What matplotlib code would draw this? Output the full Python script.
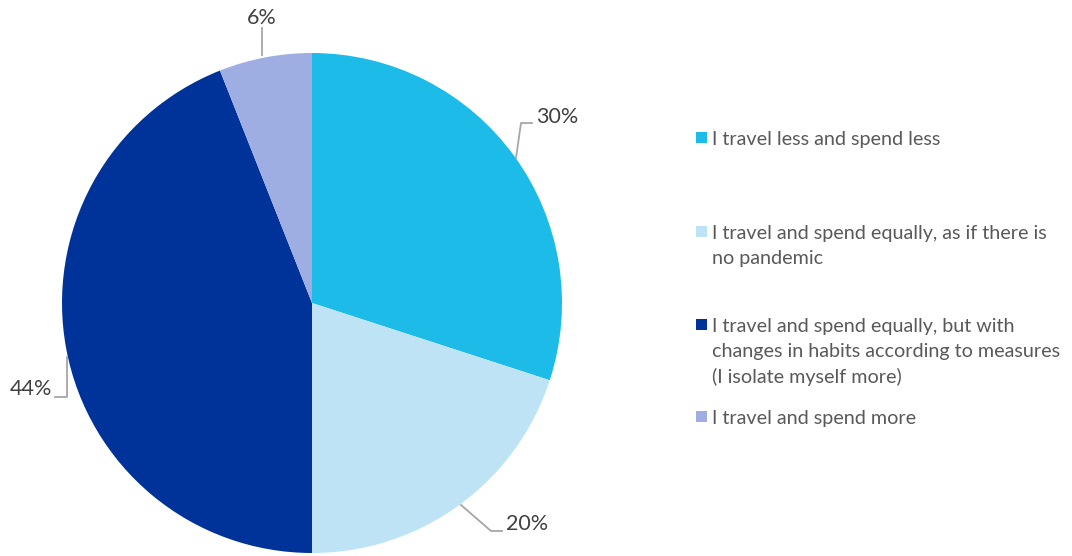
import matplotlib
matplotlib.use('Agg')
import matplotlib.pyplot as plt
from matplotlib.patches import Rectangle

# survey shares, clockwise from 12 o'clock
categories = ['I travel less and spend less',
              'I travel and spend equally, as if there is\nno pandemic',
              'I travel and spend equally, but with\nchanges in habits according to measures\n(I isolate myself more)',
              'I travel and spend more']
shares = [30, 20, 44, 6]
colors = ['#1cbbe8', '#bde3f5', '#003399', '#9faee2']

plt.rcParams['font.family'] = ['Lato', 'DejaVu Sans']

W, H = 1072, 556
fig = plt.figure(figsize=(W / 100, H / 100), dpi=100)
ax = fig.add_axes([0, 0, 1, 1])

cx, cy, r = 312, H - 303, 250
ax.pie(shares, colors=colors, startangle=90, counterclock=False,
       center=(cx, cy), radius=r, frame=True,
       wedgeprops=dict(linewidth=0))
ax.set_xlim(0, W)
ax.set_ylim(0, H)
ax.set_aspect('equal')
ax.axis('off')

# leader lines (pixel coords, y from top) and label anchors
leaders = [
    ([516, 521, 532], [158, 123, 123], (536, 117, 'left')),
    ([461, 491, 502], [505, 531, 531], (506, 524, 'left')),
    ([67, 67, 55], [357, 397, 397], (52, 389, 'right')),
    ([262, 262], [55, 28], (262, 18, 'center')),
]
for (xs, ys, (tx, ty, ha)), v in zip(leaders, shares):
    ax.plot(xs, [H - y for y in ys], color='#a6a6a6', lw=1.3)
    ax.text(tx, H - ty, f'{v}%', ha=ha, va='center', fontsize=15.5,
            color='#404040')

# legend
leg_y = [138, 232, 325, 417]
for lab, c, y in zip(categories, colors, leg_y):
    ax.add_patch(Rectangle((696, H - y - 5), 11, 11, color=c, lw=0))
    ax.text(712, H - y + 7, lab, ha='left', va='top', fontsize=14.2,
            color='#595959', linespacing=1.55)

fig.savefig('out.png', dpi=100)
